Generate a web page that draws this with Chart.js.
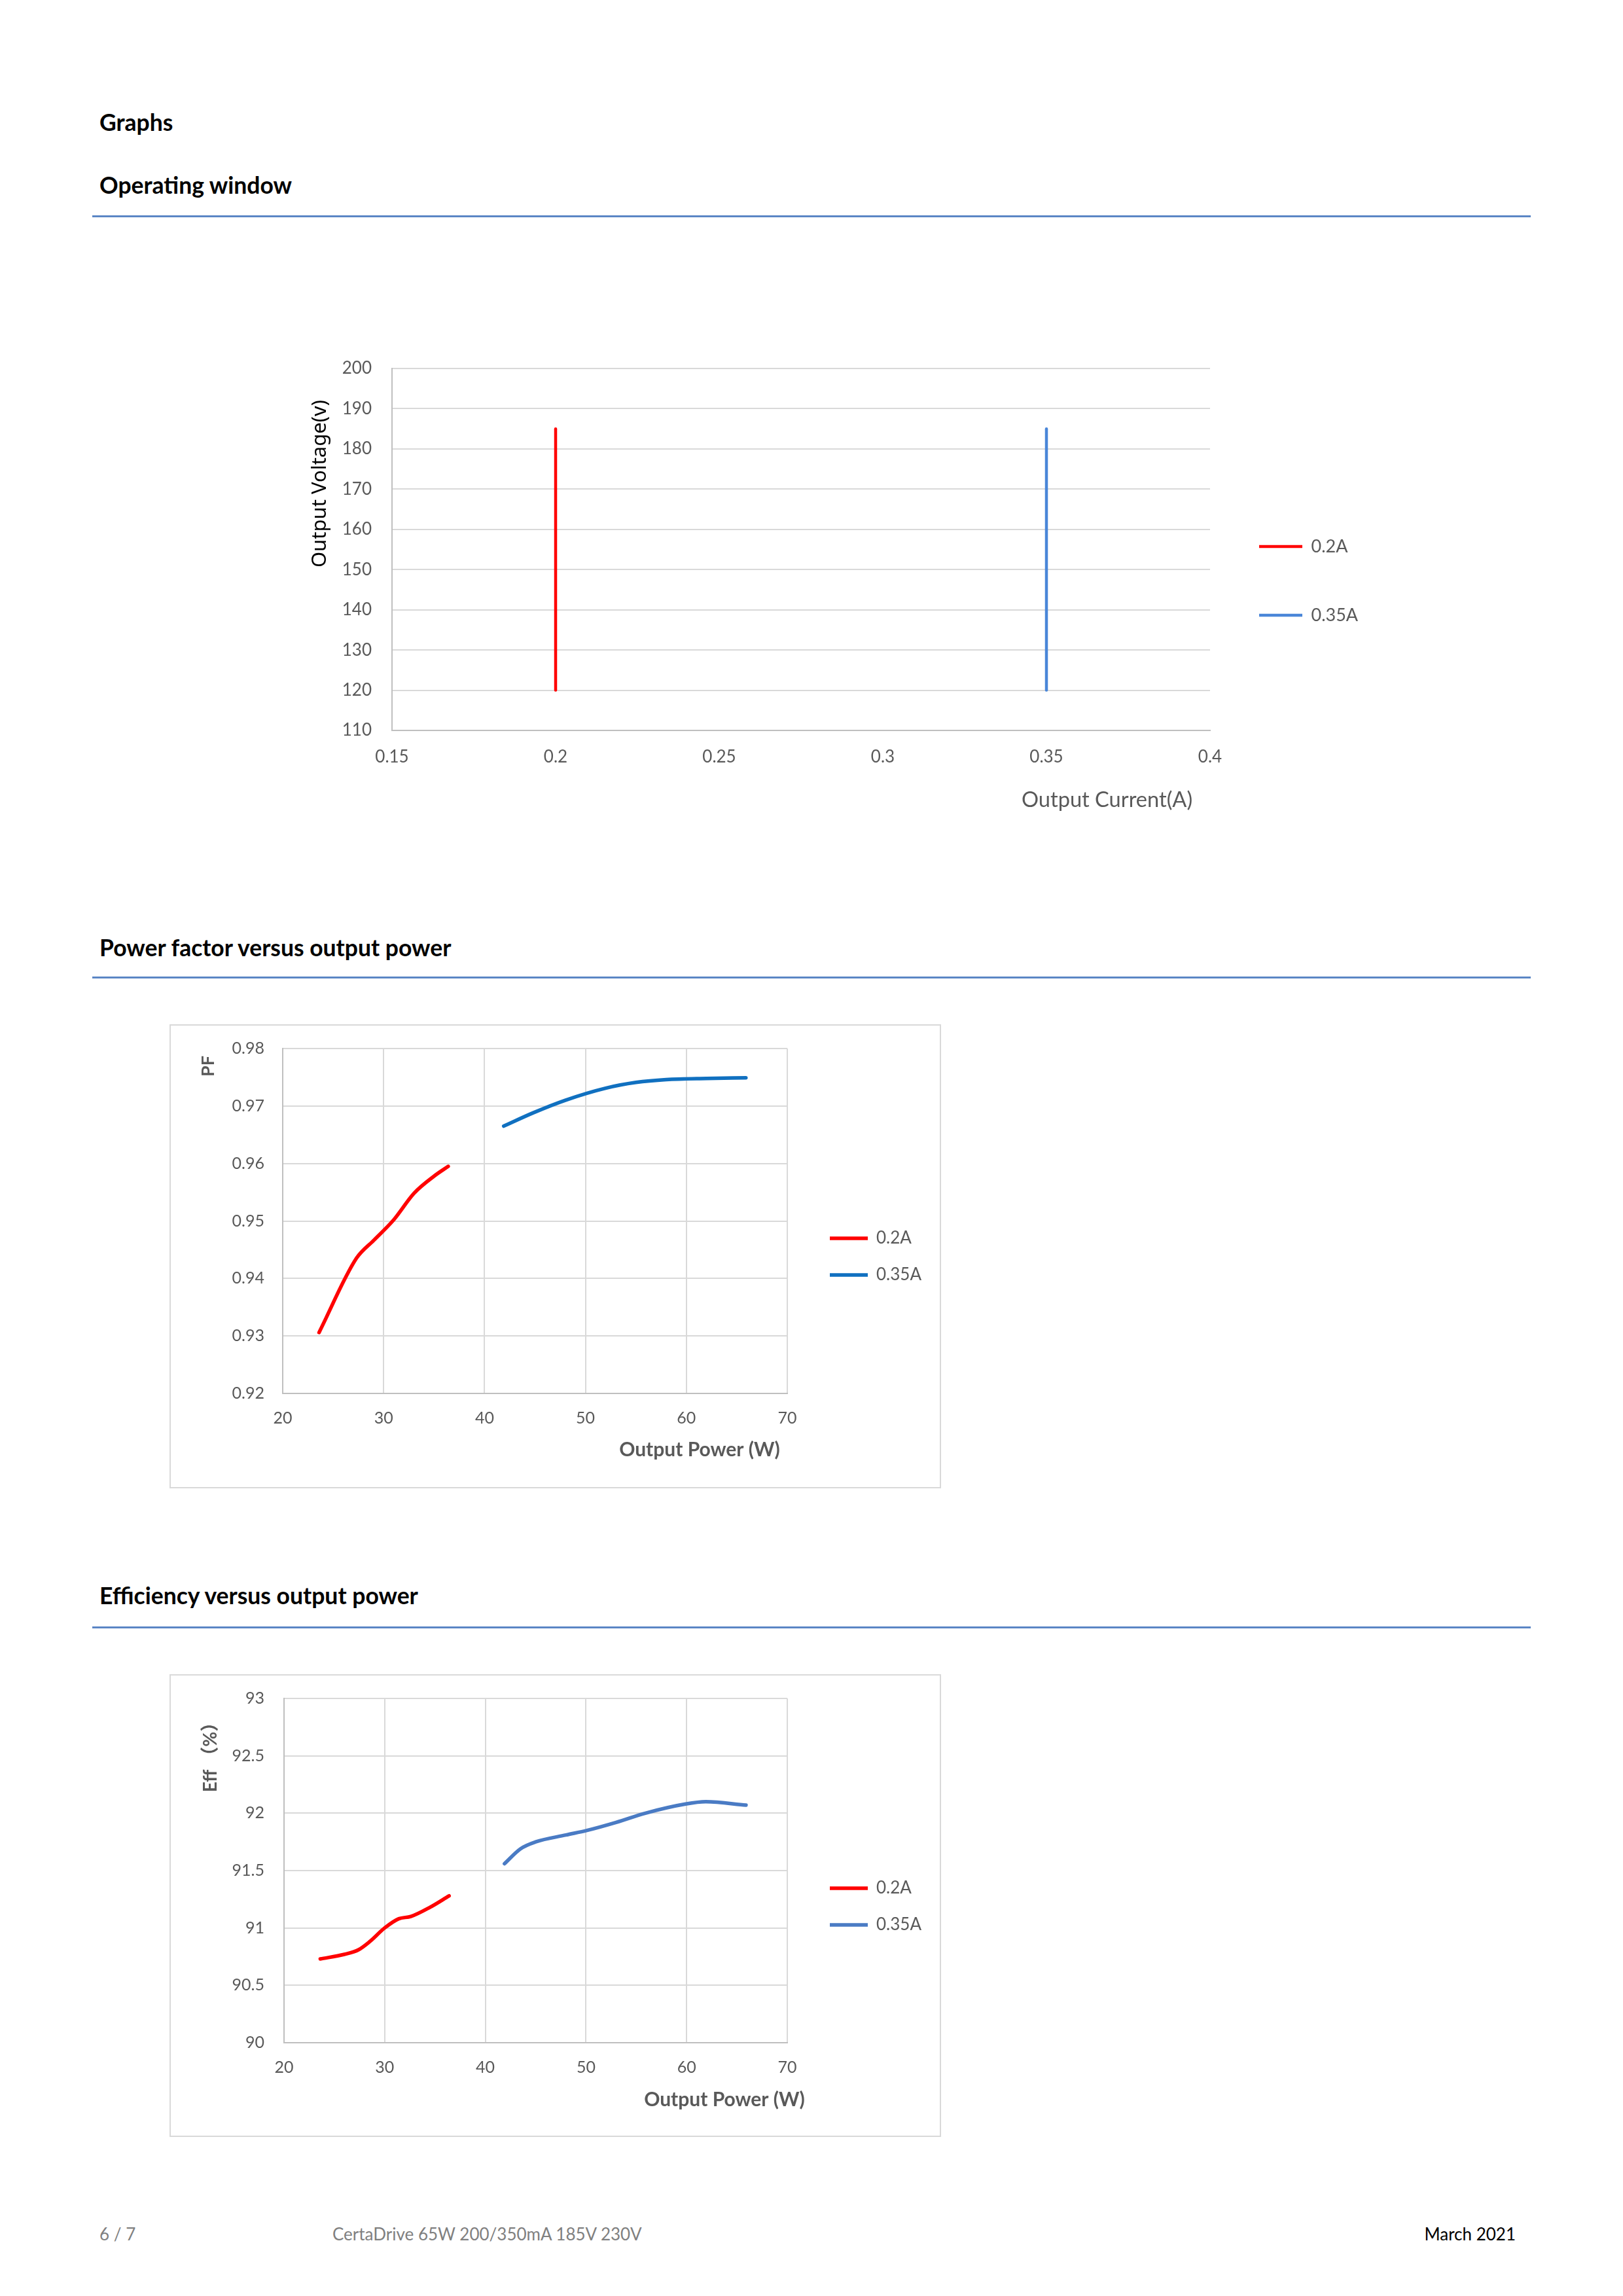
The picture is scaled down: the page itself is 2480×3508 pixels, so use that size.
<!DOCTYPE html>
<html>
<head>
<meta charset="utf-8">
<script src="https://cdn.jsdelivr.net/npm/chart.js@4.4.1/dist/chart.umd.min.js"></script>
<style>
  html, body { margin: 0; padding: 0; background: #fff; }
  body { position: relative; width: 2480px; height: 3508px; font-family: Lato, sans-serif; overflow: hidden; }
  .head { position: absolute; left: 152px; font-weight: 700; font-size: 35.5px; line-height: 40px; color: #000; white-space: nowrap; }
  .rule { position: absolute; left: 141px; width: 2198px; height: 3px; background: #5b86c5; }
  .frame { position: absolute; box-sizing: border-box; border: 2px solid #d9d9d9; }
  canvas { position: absolute; }
  .foot { position: absolute; top: 3398px; font-size: 26px; line-height: 30px; white-space: nowrap; }
</style>
</head>
<body>
<div class="head" style="top:167px">Graphs</div>
<div class="head" style="top:263px">Operating window</div>
<div class="rule" style="top:329px"></div>
<canvas id="windowChart" width="1700" height="800" style="left:440px;top:500px"></canvas>

<div class="head" style="top:1428px">Power factor versus output power</div>
<div class="rule" style="top:1492px"></div>
<div class="frame" style="left:259px;top:1565px;width:1179px;height:709px"></div>
<canvas id="pfChart" width="1175" height="705" style="left:261px;top:1567px"></canvas>

<div class="head" style="top:2418px">Efficiency versus output power</div>
<div class="rule" style="top:2485px"></div>
<div class="frame" style="left:259px;top:2558px;width:1179px;height:707px"></div>
<canvas id="effChart" width="1175" height="703" style="left:261px;top:2560px"></canvas>

<div class="foot" style="left:152px;color:#808080">6 / 7</div>
<div class="foot" style="left:508px;color:#808080">CertaDrive 65W 200/350mA 185V 230V</div>
<div class="foot" style="right:164px;color:#000">March 2021</div>

<script>
// --- operating window ---
const windowSeries = ['0.2A', '0.35A'];
const windowCurrent = [0.2, 0.35];
const windowVoltage = [120, 185];
const currentTicks = ['0.15', '0.2', '0.25', '0.3', '0.35', '0.4'];
const voltageTicks = ['110', '120', '130', '140', '150', '160', '170', '180', '190', '200'];

// --- power factor ---
const pfPower02 = [23.6, 27.3, 29.0, 31.0, 33.0, 35.0, 36.4];
const pf02 = [0.9306, 0.9435, 0.9466, 0.9502, 0.9548, 0.9578, 0.9595];
const pfPower035 = [41.9, 44.8, 48.0, 52.0, 55.0, 58.0, 62.0, 65.9];
const pf035 = [0.9665, 0.9688, 0.9710, 0.9731, 0.9741, 0.9746, 0.9748, 0.9749];
const pfTicks = ['0.92', '0.93', '0.94', '0.95', '0.96', '0.97', '0.98'];

// --- efficiency ---
const effPower02 = [23.6, 26.0, 27.4, 28.5, 30.0, 31.4, 32.6, 34.5, 36.4];
const eff02 = [90.73, 90.77, 90.81, 90.88, 91.00, 91.08, 91.10, 91.18, 91.28];
const effPower035 = [41.9, 43.5, 45.0, 48.0, 50.1, 53.0, 55.9, 59.9, 61.9, 65.9];
const eff035 = [91.56, 91.69, 91.75, 91.81, 91.85, 91.92, 92.00, 92.08, 92.10, 92.07];
const effTicks = ['90', '90.5', '91', '91.5', '92', '92.5', '93'];

const powerTicks = ['20', '30', '40', '50', '60', '70'];
const seriesNames = ['0.2A', '0.35A'];

const GRID = '#d9d9d9';
const AXIS = '#bfbfbf';
const TEXT = '#595959';

const pts = (xs, ys) => xs.map((x, i) => ({ x, y: ys[i] }));

// legend is moved to a fixed spot once the layout is done
const placeLegend = {
  id: 'placeLegend',
  beforeDraw(chart, args, opts) {
    const lg = chart.legend;
    if (!lg) return;
    lg.left = opts.left;
    lg.top = opts.top;
    lg.right = lg.left + lg.width;
    lg.bottom = lg.top + lg.height;
  }
};

// axis titles, placed where the original had them
const axisTitles = {
  id: 'axisTitles',
  afterDraw(chart, args, opts) {
    const ctx = chart.ctx;
    opts.items.forEach(t => {
      ctx.save();
      ctx.translate(t.x, t.y);
      if (t.rotate) ctx.rotate(-Math.PI / 2);
      ctx.font = t.font;
      ctx.fillStyle = t.color;
      ctx.textAlign = t.align;
      ctx.textBaseline = 'middle';
      ctx.fillText(t.text, 0, 0);
      ctx.restore();
    });
  }
};

function valueAxis(min, max, labels, o) {
  return {
    type: 'linear',
    min: min,
    max: max,
    afterBuildTicks: s => { s.ticks = labels.map(l => ({ value: parseFloat(l) })); },
    afterFit: s => {
      if (o.width) { s.width = o.width; s.paddingTop = 0; s.paddingBottom = 0; }
      if (o.height) s.height = o.height;
    },
    ticks: {
      callback: (v, i) => labels[i],
      autoSkip: false,
      maxRotation: 0,
      padding: o.pad,
      color: TEXT,
      font: { family: 'Lato', size: o.size }
    },
    grid: { display: o.grid, color: GRID, lineWidth: 2, drawTicks: false },
    border: { color: AXIS, width: 2 }
  };
}

function legendOpts(size, gap, lineLen) {
  return {
    position: 'chartArea',
    align: 'start',
    labels: {
      usePointStyle: true,
      pointStyle: 'line',
      pointStyleWidth: lineLen,
      padding: gap,
      color: TEXT,
      font: { family: 'Lato', size: size }
    }
  };
}

function lineSet(label, data, color, width) {
  return {
    label: label,
    data: data,
    showLine: true,
    borderColor: color,
    backgroundColor: color,
    borderWidth: width,
    borderCapStyle: 'round',
    borderJoinStyle: 'round',
    pointRadius: 0,
    cubicInterpolationMode: 'monotone'
  };
}

Chart.defaults.font.family = 'Lato';

// 1. operating window
const windowColors = ['#ff0000', '#4a86d8'];
new Chart(document.getElementById('windowChart'), {
  type: 'scatter',
  data: {
    datasets: windowSeries.map((name, i) =>
      lineSet(name, windowVoltage.map(v => ({ x: windowCurrent[i], y: v })), windowColors[i], 4.5))
  },
  plugins: [placeLegend, axisTitles],
  options: {
    responsive: false,
    animation: false,
    events: [],
    layout: { padding: { left: 0, top: 63, right: 291, bottom: 0 } },
    scales: {
      x: valueAxis(0.15, 0.4, currentTicks, { pad: 25, size: 26, grid: false, height: 184 }),
      y: valueAxis(110, 200, voltageTicks, { pad: 31, size: 26, grid: true, width: 159 })
    },
    plugins: {
      tooltip: { enabled: false },
      legend: legendOpts(27, 78, 66),
      placeLegend: { left: 1484 - 78, top: 335 - 78 - 13.5 },
      axisTitles: {
        items: [
          { text: 'Output Voltage(v)', x: 49, y: 239, rotate: true, align: 'center', font: '31px "Noto Sans"', color: '#000' },
          { text: 'Output Current(A)', x: 1121, y: 722, rotate: false, align: 'left', font: '32.6px Lato', color: TEXT }
        ]
      }
    }
  }
});

// 2. power factor
new Chart(document.getElementById('pfChart'), {
  type: 'scatter',
  data: {
    datasets: [
      lineSet(seriesNames[0], pts(pfPower02, pf02), '#ff0000', 5.5),
      lineSet(seriesNames[1], pts(pfPower035, pf035), '#1070c0', 5.5)
    ]
  },
  plugins: [placeLegend, axisTitles],
  options: {
    responsive: false,
    animation: false,
    events: [],
    layout: { padding: { left: 0, top: 35, right: 233, bottom: 0 } },
    scales: {
      x: valueAxis(20, 70, powerTicks, { pad: 23, size: 25, grid: true, height: 143 }),
      y: valueAxis(0.92, 0.98, pfTicks, { pad: 28, size: 25, grid: true, width: 171 })
    },
    plugins: {
      tooltip: { enabled: false },
      legend: legendOpts(26, 30, 58),
      placeLegend: { left: 1007 - 30, top: 325 - 30 - 13 },
      axisTitles: {
        items: [
          { text: 'PF', x: 57, y: 62, rotate: true, align: 'center', font: 'bold 27px Lato', color: TEXT },
          { text: 'Output Power (W)', x: 808, y: 648, rotate: false, align: 'center', font: 'bold 30px Lato', color: TEXT }
        ]
      }
    }
  }
});

// 3. efficiency
new Chart(document.getElementById('effChart'), {
  type: 'scatter',
  data: {
    datasets: [
      lineSet(seriesNames[0], pts(effPower02, eff02), '#ff0000', 5.5),
      lineSet(seriesNames[1], pts(effPower035, eff035), '#4a7bc4', 5.5)
    ]
  },
  plugins: [placeLegend, axisTitles],
  options: {
    responsive: false,
    animation: false,
    events: [],
    layout: { padding: { left: 0, top: 35, right: 233, bottom: 0 } },
    scales: {
      x: valueAxis(20, 70, powerTicks, { pad: 23, size: 25, grid: true, height: 142 }),
      y: valueAxis(90, 93, effTicks, { pad: 30, size: 25, grid: true, width: 173 })
    },
    plugins: {
      tooltip: { enabled: false },
      legend: legendOpts(26, 30, 58),
      placeLegend: { left: 1007 - 30, top: 325 - 30 - 13 },
      axisTitles: {
        items: [
          { text: 'Eff （%）', x: 61, y: 118, rotate: true, align: 'center', font: 'bold 28px Lato, "Noto Sans CJK SC"', color: TEXT },
          { text: 'Output Power (W)', x: 846, y: 648, rotate: false, align: 'center', font: 'bold 30px Lato', color: TEXT }
        ]
      }
    }
  }
});
</script>
</body>
</html>
